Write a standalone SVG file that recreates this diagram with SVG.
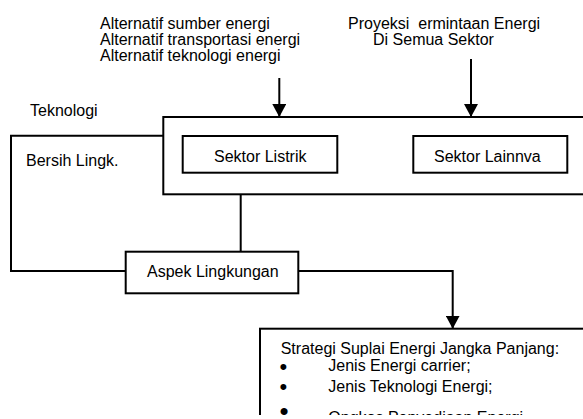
<svg xmlns="http://www.w3.org/2000/svg" width="583" height="419" viewBox="0 0 583 419">
<style>
text{font-family:"Liberation Sans",Arial,sans-serif;font-size:16px;fill:#000}
.box{fill:#fff;stroke:#000;stroke-width:2}
.ln{fill:none;stroke:#000;stroke-width:2}
.bul{font-size:22px}
</style>
<defs>
<marker id="ah" markerUnits="userSpaceOnUse" markerWidth="14" markerHeight="14" refX="13" refY="7" orient="auto" viewBox="0 0 14 14">
<path d="M0,0 L13,7 L0,14 Z" fill="#000"/>
</marker>
<clipPath id="cp"><rect x="0" y="0" width="583" height="415"/></clipPath>
</defs>
<rect width="583" height="419" fill="#fff"/>
<g clip-path="url(#cp)">
<g id="labels">
<text x="100" y="29">Alternatif sumber energi</text>
<text x="100" y="45">Alternatif transportasi energi</text>
<text x="100" y="61">Alternatif teknologi energi</text>
<text x="348" y="29" xml:space="preserve">Proyeksi  ermintaan Energi</text>
<text x="373" y="45">Di Semua Sektor</text>
<text x="30" y="116">Teknologi</text>
<text x="26" y="166">Bersih Lingk.</text>
</g>
<g id="connectors">
<line class="ln" x1="279.3" y1="78" x2="279.3" y2="117" marker-end="url(#ah)"/>
<line class="ln" x1="471" y1="59" x2="471" y2="117" marker-end="url(#ah)"/>
<line class="ln" x1="337" y1="155.7" x2="413.3" y2="155.7"/>
<polyline class="ln" points="163.3,135.7 11,135.7 11,271 125.7,271"/>
<line class="ln" x1="240.7" y1="194.3" x2="240.7" y2="251.7"/>
<polyline class="ln" points="298.3,271 452.7,271 452.7,328.7" marker-end="url(#ah)"/>
</g>
<g id="sistem">
<rect class="box" x="163.3" y="117" width="440" height="77.3"/>
</g>
<g id="sektor-listrik">
<rect class="box" x="182.7" y="136" width="154.6" height="36.7"/>
<text x="214" y="162">Sektor Listrik</text>
</g>
<g id="sektor-lainnva">
<rect class="box" x="413.3" y="136" width="154" height="36.7"/>
<text x="434" y="162">Sektor Lainnva</text>
</g>
<g id="aspek-lingkungan">
<rect class="box" x="125.7" y="251.7" width="172.6" height="41.6"/>
<text x="147" y="277">Aspek Lingkungan</text>
</g>
<g id="strategi">
<rect class="box" x="260" y="328.7" width="340" height="120"/>
<text x="280.7" y="354">Strategi Suplai Energi Jangka Panjang:</text>
<text class="bul" x="283.3" y="373.7" text-anchor="middle">•</text>
<text x="328.3" y="370.7">Jenis Energi carrier;</text>
<text class="bul" x="283.3" y="393.7" text-anchor="middle">•</text>
<text x="328.3" y="391.7">Jenis Teknologi Energi;</text>
<text x="284" y="419.5" text-anchor="middle" style="font-size:26px">•</text>
<text x="328.3" y="422.5">Ongkos Penyediaan Energi</text>
</g>
</g>
</svg>
